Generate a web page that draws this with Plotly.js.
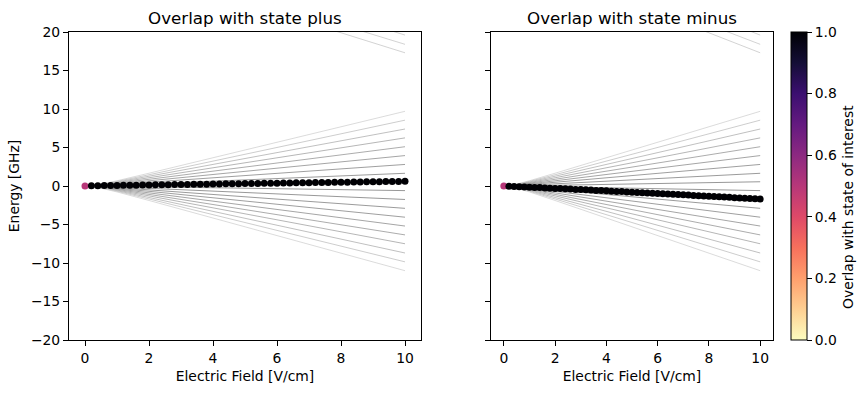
<!DOCTYPE html>
<html>
<head>
<meta charset="utf-8">
<script src="https://cdn.plot.ly/plotly-3.0.1.min.js"></script>
<style>html,body{margin:0;padding:0;background:#fff;}#chart{width:867px;height:393px;}</style>
</head>
<body>
<div id="chart"></div>
<script>
// ---- data ----
const fieldX = [0,0.2,0.4,0.6,0.8,1.0,1.2,1.4,1.6,1.8,2.0,2.2,2.4,2.6,2.8,3.0,3.2,3.4,3.6,3.8,4.0,4.2,4.4,4.6,4.8,5.0,5.2,5.4,5.6,5.8,6.0,6.2,6.4,6.6,6.8,7.0,7.2,7.4,7.6,7.8,8.0,8.2,8.4,8.6,8.8,9.0,9.2,9.4,9.6,9.8,10.0];
const plusEnergy = [0,0.02,0.04,0.05,0.07,0.08,0.09,0.10,0.11,0.13,0.14,0.15,0.16,0.17,0.18,0.20,0.21,0.22,0.23,0.24,0.25,0.27,0.28,0.29,0.30,0.31,0.32,0.34,0.35,0.36,0.37,0.38,0.39,0.41,0.42,0.43,0.44,0.45,0.47,0.48,0.49,0.50,0.51,0.53,0.54,0.55,0.56,0.57,0.59,0.60,0.61];
const minusEnergy = [0,-0.03,-0.06,-0.09,-0.12,-0.15,-0.18,-0.21,-0.25,-0.28,-0.31,-0.34,-0.37,-0.40,-0.44,-0.47,-0.50,-0.53,-0.57,-0.60,-0.63,-0.67,-0.70,-0.73,-0.77,-0.80,-0.83,-0.87,-0.90,-0.94,-0.97,-1.01,-1.04,-1.08,-1.11,-1.15,-1.18,-1.22,-1.25,-1.29,-1.33,-1.36,-1.40,-1.44,-1.47,-1.51,-1.55,-1.59,-1.62,-1.66,-1.70];
const plusOverlap = [0.5,1,1,1,1,1,1,1,1,1,1,1,1,1,1,1,1,1,1,1,1,1,1,1,1,1,1,1,1,1,1,1,1,1,1,1,1,1,1,1,1,1,1,1,1,1,1,1,1,1,1];
const minusOverlap = [0.5,1,1,1,1,1,1,1,1,1,1,1,1,1,1,1,1,1,1,1,1,1,1,1,1,1,1,1,1,1,1,1,1,1,1,1,1,1,1,1,1,1,1,1,1,1,1,1,1,1,1];

// Stark fan levels: energies on lineX grid
const lineX = [0, 0.5, 1, 1.5, 2, 10];
const fanLevels = [
  [0, 0.24, 0.68, 1.16, 1.66, 9.70],
  [0, 0.21, 0.60, 1.03, 1.46, 8.55],
  [0, 0.19, 0.52, 0.89, 1.27, 7.40],
  [0, 0.16, 0.44, 0.75, 1.07, 6.25],
  [0, 0.13, 0.36, 0.61, 0.87, 5.10],
  [0, 0.10, 0.28, 0.47, 0.68, 3.95],
  [0, 0.07, 0.20, 0.34, 0.48, 2.80],
  [0, 0.04, 0.12, 0.20, 0.28, 1.65],
  [0, 0.01, 0.04, 0.07, 0.09, 0.55],
  [0, -0.02, -0.04, -0.07, -0.10, -0.60],
  [0, -0.04, -0.12, -0.21, -0.30, -1.75],
  [0, -0.07, -0.20, -0.35, -0.50, -2.90],
  [0, -0.10, -0.28, -0.49, -0.69, -4.05],
  [0, -0.13, -0.36, -0.62, -0.89, -5.20],
  [0, -0.16, -0.44, -0.76, -1.09, -6.35],
  [0, -0.19, -0.53, -0.90, -1.28, -7.50],
  [0, -0.22, -0.61, -1.04, -1.49, -8.70],
  [0, -0.25, -0.69, -1.18, -1.68, -9.85],
  [0, -0.28, -0.77, -1.32, -1.88, -11.00]
];
// upper manifold levels entering from the top
const upperX = [[7, 10], [8, 10], [9, 10]];
const upperLevels = [[21.2, 17.3], [20.95, 18.4], [20.9, 19.6]];

const xTicks = [0, 2, 4, 6, 8, 10];
const yTicks = [-20, -15, -10, -5, 0, 5, 10, 15, 20];
const cbTicks = [0, 0.2, 0.4, 0.6, 0.8, 1.0];

// ---- styling ----
const magmaR = [
  [0.0, '#fcfdbf'], [0.1, '#fecf92'], [0.2, '#fe9f6d'], [0.3, '#f7705c'],
  [0.4, '#de4968'], [0.5, '#b73779'], [0.6, '#8c2981'], [0.7, '#641a80'],
  [0.8, '#3b0f70'], [0.9, '#140e36'], [1.0, '#000004']
];
const FONT = 'DejaVu Sans, sans-serif';
const nL = fanLevels.length;
function grayFor(i) {
  const c = (nL - 1) / 2;
  const d = Math.abs(i - c) / c; // 0 center .. 1 outer
  const v = Math.round(125 + 85 * Math.pow(d, 2));
  return `rgb(${v},${v},${v})`;
}

const traces = [];
[['x', 'y'], ['x2', 'y2']].forEach(([xa, ya]) => {
  fanLevels.forEach((lv, i) => {
    traces.push({type: 'scatter', mode: 'lines', x: lineX, y: lv, xaxis: xa, yaxis: ya,
      line: {color: grayFor(i), width: 0.8}, showlegend: false, hoverinfo: 'skip'});
  });
  upperLevels.forEach((lv, i) => {
    traces.push({type: 'scatter', mode: 'lines', x: upperX[i], y: lv, xaxis: xa, yaxis: ya,
      line: {color: 'rgb(200,200,200)', width: 0.8}, showlegend: false, hoverinfo: 'skip'});
  });
});
traces.push({type: 'scatter', mode: 'markers', x: fieldX, y: plusEnergy, xaxis: 'x', yaxis: 'y',
  marker: {size: 7, color: plusOverlap, colorscale: magmaR, cmin: 0, cmax: 1, showscale: false},
  showlegend: false});
traces.push({type: 'scatter', mode: 'markers', x: fieldX, y: minusEnergy, xaxis: 'x2', yaxis: 'y2',
  marker: {size: 7, color: minusOverlap, colorscale: magmaR, cmin: 0, cmax: 1, showscale: true,
    colorbar: {x: 791/867, xanchor: 'left', xpad: 0, ypad: 0, y: 53/393, yanchor: 'bottom',
      len: 308/393, lenmode: 'fraction', thickness: 16, thicknessmode: 'pixels',
      outlinewidth: 1, outlinecolor: '#000', ticks: 'outside', ticklen: 5, tickwidth: 1,
      tickcolor: '#000', tickvals: cbTicks, tickformat: '.1f',
      tickfont: {family: FONT, size: 13.9, color: '#000'}}},
  showlegend: false});

const W = 867, H = 393;
const yDom = [53/H, 361/H];
const axBase = {showline: true, linecolor: '#000', linewidth: 1, mirror: true, showgrid: false,
  zeroline: false, ticks: 'outside', ticklen: 5, tickwidth: 1, tickcolor: '#000',
  tickfont: {family: FONT, size: 13.9, color: '#000'}};

const layout = {
  width: W, height: H, margin: {l: 0, r: 0, t: 0, b: 0},
  paper_bgcolor: '#fff', plot_bgcolor: '#fff', font: {family: FONT, color: '#000'},
  xaxis: Object.assign({}, axBase, {domain: [69/W, 421/W], range: [-0.5, 10.5], tickvals: xTicks,
    title: {text: 'Electric Field [V/cm]', font: {family: FONT, size: 13.9}, standoff: 6}, anchor: 'y'}),
  yaxis: Object.assign({}, axBase, {domain: yDom, range: [-20, 20], tickvals: yTicks,
    title: {text: 'Energy [GHz]', font: {family: FONT, size: 13.9}, standoff: 8}, anchor: 'x'}),
  xaxis2: Object.assign({}, axBase, {domain: [491/W, 773/W], range: [-0.5, 10.5], tickvals: xTicks,
    title: {text: 'Electric Field [V/cm]', font: {family: FONT, size: 13.9}, standoff: 6}, anchor: 'y2'}),
  yaxis2: Object.assign({}, axBase, {domain: yDom, range: [-20, 20], tickvals: yTicks,
    showticklabels: false, anchor: 'x2'}),
  annotations: [
    {text: 'Overlap with state plus', xref: 'paper', yref: 'paper', x: 245/W, y: (H-18)/H,
      xanchor: 'center', yanchor: 'middle', showarrow: false, font: {family: FONT, size: 16.7, color: '#000'}},
    {text: 'Overlap with state minus', xref: 'paper', yref: 'paper', x: 632/W, y: (H-18)/H,
      xanchor: 'center', yanchor: 'middle', showarrow: false, font: {family: FONT, size: 16.7, color: '#000'}},
    {text: 'Overlap with state of interest', xref: 'paper', yref: 'paper', x: 848/W, y: 186/H,
      xanchor: 'center', yanchor: 'middle', textangle: -90, showarrow: false,
      font: {family: FONT, size: 13.9, color: '#000'}}
  ]
};

Plotly.newPlot('chart', traces, layout, {staticPlot: true, displayModeBar: false});
</script>
</body>
</html>
